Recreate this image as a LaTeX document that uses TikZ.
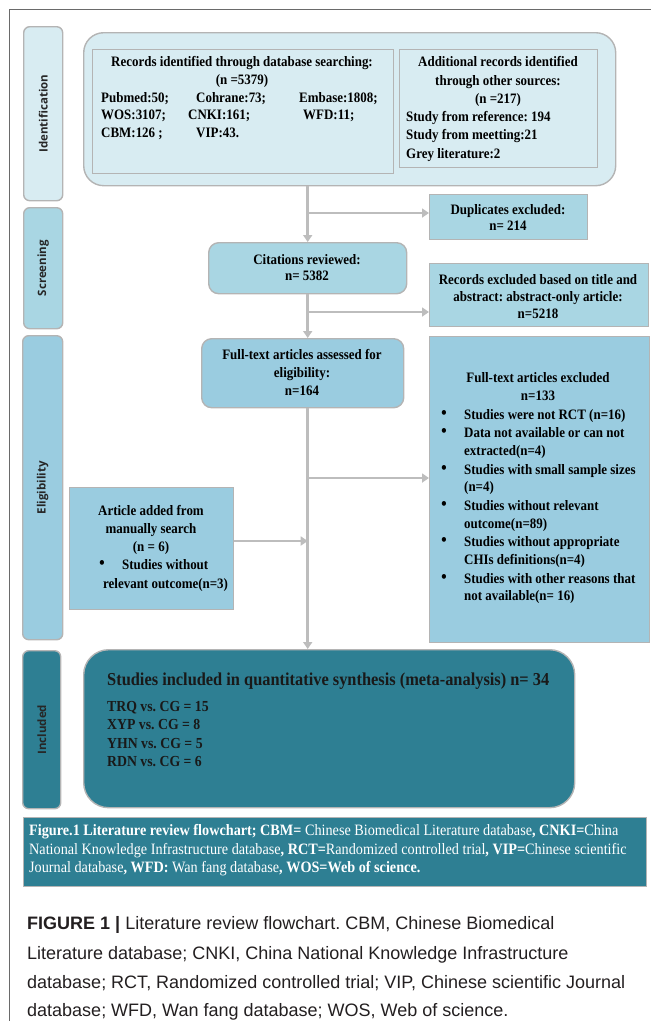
\documentclass[tikz,border=0pt]{standalone}
\usepackage{fontspec}
\setmainfont{Liberation Serif}[FakeStretch=0.9]
\newfontfamily\osans{Open Sans}
\newfontfamily\lsans{Liberation Sans}
\usetikzlibrary{arrows.meta}
\definecolor{idfill}{HTML}{D8ECF2}
\definecolor{scrfill}{HTML}{A9D6E3}
\definecolor{elifill}{HTML}{9ACCE0}
\definecolor{incfill}{HTML}{2E7F93}
\definecolor{bordergray}{HTML}{B4B4B4}
\definecolor{arrgray}{HTML}{BDBDBD}
\definecolor{framegray}{HTML}{6A6A6A}
\definecolor{captxt}{HTML}{231F20}
\tikzset{
  boxbase/.style={draw=bordergray, line width=1.4pt, inner sep=0pt, anchor=north west},
  sidelbl/.style={boxbase, rounded corners=6pt},
  lbltext/.style={inner sep=0pt, rotate=90, font=\osans\bfseries\fontsize{11.5}{13}\selectfont, text=black!85},
  t/.style={inner sep=0pt, anchor=mid, font=\bfseries\fontsize{14.4}{16}\selectfont},
  tw/.style={t, anchor=mid west},
  bul/.style={inner sep=0pt, anchor=mid, font=\fontsize{20}{20}\selectfont},
  arr/.style={draw=arrgray, line width=2.6pt, -{Triangle[width=9pt,length=7pt]}},
  capt/.style={inner sep=0pt, anchor=mid west, text=white, font=\fontsize{15.8}{17}\selectfont},
  bott/.style={inner sep=0pt, anchor=mid west, text=captxt, font=\lsans\fontsize{18}{20}\selectfont},
  inct/.style={tw, font=\bfseries\fontsize{15.3}{17}\selectfont, text=black!90},
}
\begin{document}
\frenchspacing
\begin{tikzpicture}[x=1pt,y=-1pt]
\useasboundingbox (0,0) rectangle (651,1021);
% frame
\draw[framegray, line width=0.9pt] (9,1021) -- (9,9) -- (651,9);

% side labels
\node[sidelbl, fill=idfill, minimum width=39pt, minimum height=174pt] (lid) at (23,26) {};
\node[lbltext] (lidt) at (lid.center) {Identification};
\node[sidelbl, fill=scrfill, minimum width=39pt, minimum height=121pt] (lscr) at (23,207) {};
\node[lbltext] (lscrt) at (lscr.center) {Screening};
\node[sidelbl, fill=elifill, minimum width=40pt, minimum height=304pt] (leli) at (22,335) {};
\node[lbltext] (lelit) at (leli.center) {Eligibility};
\node[sidelbl, fill=incfill, minimum width=38pt, minimum height=158pt] (linc) at (22,650) {};
\node[lbltext] (linct) at (linc.center) {Included};

% identification
\node[boxbase, rounded corners=20pt, fill=idfill, minimum width=532pt, minimum height=153pt] (idbox) at (83,32) {};
\node[boxbase, fill=idfill, minimum width=301pt, minimum height=124pt] (db) at (92,49) {};
\node[boxbase, fill=idfill, minimum width=198pt, minimum height=118pt] (other) at (399,49) {};

\node[t] (db1) at (242,64) {Records identified through database searching:};
\node[t] (db2) at (242,82) {(n =5379)};
\node[tw] (d11) at (101,100) {Pubmed:50;};
\node[tw] (d12) at (196,100) {Cohrane:73;};
\node[tw] (d13) at (299,100) {Embase:1808;};
\node[tw] (d21) at (101,117) {WOS:3107;};
\node[tw] (d22) at (188,117) {CNKI:161;};
\node[tw] (d23) at (303,117) {WFD:11;};
\node[tw] (d31) at (101,135) {CBM:126 ;};
\node[tw] (d32) at (196,135) {VIP:43.};

\node[t] (o1) at (498,64) {Additional records identified};
\node[t] (o2) at (498,83) {through other sources:};
\node[t] (o3) at (498,101) {(n =217)};
\node[tw] (o4) at (406,119) {Study from reference: 194};
\node[tw] (o5) at (406,137) {Study from meetting:21};
\node[tw] (o6) at (406,156) {Grey literature:2};

% screening
\node[boxbase, fill=scrfill, minimum width=158pt, minimum height=45pt] (dup) at (429,194) {};
\node[t] (dup1) at (508,212) {Duplicates excluded:};
\node[t] (dup2) at (508,228) {n= 214};

\node[boxbase, rounded corners=10pt, fill=scrfill, minimum width=198pt, minimum height=51pt] (cit) at (208,242) {};
\node[t] (cit1) at (307,262) {Citations reviewed:};
\node[t] (cit2) at (307,278) {n= 5382};

\node[boxbase, fill=scrfill, minimum width=219pt, minimum height=63pt] (rex) at (429,263) {};
\node[t] (rex1) at (538,282) {Records excluded based on title and};
\node[t] (rex2) at (538,299) {abstract: abstract-only article:};
\node[t] (rex3) at (538,316) {n=5218};

% eligibility
\node[boxbase, rounded corners=10pt, fill=elifill, minimum width=202pt, minimum height=69pt] (ft) at (201,338) {};
\node[t] (ft1) at (302,357) {Full-text articles assessed for};
\node[t] (ft2) at (302,375) {eligibility:};
\node[t] (ft3) at (302,393) {n=164};

\node[boxbase, fill=elifill, minimum width=220pt, minimum height=306pt] (exc) at (429,336) {};
\node[t] (e0) at (538,380) {Full-text articles excluded};
\node[t] (e00) at (538,398) {n=133};
\node[bul] (b1) at (444,417) {•};
\node[tw] (e1) at (464,417) {Studies were not RCT (n=16)};
\node[bul] (b2) at (444,435) {•};
\node[tw] (e2) at (464,435) {Data not available or can not};
\node[tw] (e2b) at (464,453) {extracted(n=4)};
\node[bul] (b3) at (444,472) {•};
\node[tw] (e3) at (464,472) {Studies with small sample sizes};
\node[tw] (e3b) at (464,489) {(n=4)};
\node[bul] (b4) at (444,508) {•};
\node[tw] (e4) at (464,508) {Studies without relevant};
\node[tw] (e4b) at (464,526) {outcome(n=89)};
\node[bul] (b5) at (444,544) {•};
\node[tw] (e5) at (464,544) {Studies without appropriate};
\node[tw] (e5b) at (464,562) {CHIs definitions(n=4)};
\node[bul] (b6) at (444,581) {•};
\node[tw] (e6) at (464,581) {Studies with other reasons that};
\node[tw] (e6b) at (464,598) {not available(n= 16)};

\node[boxbase, fill=elifill, minimum width=164pt, minimum height=122pt] (man) at (69,487) {};
\node[t] (m1) at (151,513) {Article added from};
\node[t] (m2) at (151,531) {manually search};
\node[t] (m3) at (151,549) {(n = 6)};
\node[bul] (mb) at (102,567) {•};
\node[tw] (m4) at (122,567) {Studies without};
\node[tw] (m5) at (103,586) {relevant outcome(n=3)};

% included
\node[boxbase, rounded corners=25pt, fill=incfill, minimum width=491pt, minimum height=158pt] (inc) at (83,649) {};
\node[tw, font=\bfseries\fontsize{18.2}{20}\selectfont, text=black!90] (i0) at (107,683) {Studies included in quantitative synthesis (meta-analysis) n= 34};
\node[inct] (i1) at (107,709) {TRQ vs. CG = 15};
\node[inct] (i2) at (107,727) {XYP vs. CG = 8};
\node[inct] (i3) at (107,746) {YHN vs. CG = 5};
\node[inct] (i4) at (107,764) {RDN vs. CG = 6};

% caption box
\node[boxbase, fill=incfill, minimum width=623pt, minimum height=69pt] (cap) at (23,817) {};
\node[capt] (c1) at (29,833) {\textbf{Figure.1 Literature review flowchart; CBM=} Chinese Biomedical Literature database\textbf{, CNKI=}China};
\node[capt] (c2) at (29,852) {National Knowledge Infrastructure database\textbf{, RCT=}Randomized controlled trial\textbf{, VIP=}Chinese scientific};
\node[capt] (c3) at (29,870) {Journal database\textbf{, WFD:} Wan fang database\textbf{, WOS=Web of science.}};

% bottom caption
\node[bott] (f1) at (27,927) {\textbf{FIGURE 1 |} Literature review flowchart. CBM, Chinese Biomedical};
\node[bott] (f2) at (27,957) {Literature database; CNKI, China National Knowledge Infrastructure};
\node[bott] (f3) at (27,986) {database; RCT, Randomized controlled trial; VIP, Chinese scientific Journal};
\node[bott] (f4) at (27,1014) {database; WFD, Wan fang database; WOS, Web of science.};

% connectors
\coordinate (top) at (idbox.south -| cit.north);
\draw[arr] (top) -- (cit.north);
\coordinate (j1) at (cit.north |- 0,213);
\draw[arr] (j1) -- (j1 -| dup.west);
\coordinate (ftin) at (cit.south |- ft.north);
\draw[arr] (cit.south) -- (ftin);
\coordinate (j2) at (cit.south |- 0,312);
\draw[arr] (j2) -- (j2 -| rex.west);
\coordinate (ftout) at (cit.south |- ft.south);
\coordinate (incin) at (cit.south |- inc.north);
\draw[arr] (ftout) -- (incin);
\coordinate (j3) at (cit.south |- 0,478);
\draw[arr] (j3) -- (j3 -| exc.west);
\coordinate (j4) at (cit.south |- 0,541);
\draw[arr] (j4 -| man.east) -- (j4);
\end{tikzpicture}
\end{document}
